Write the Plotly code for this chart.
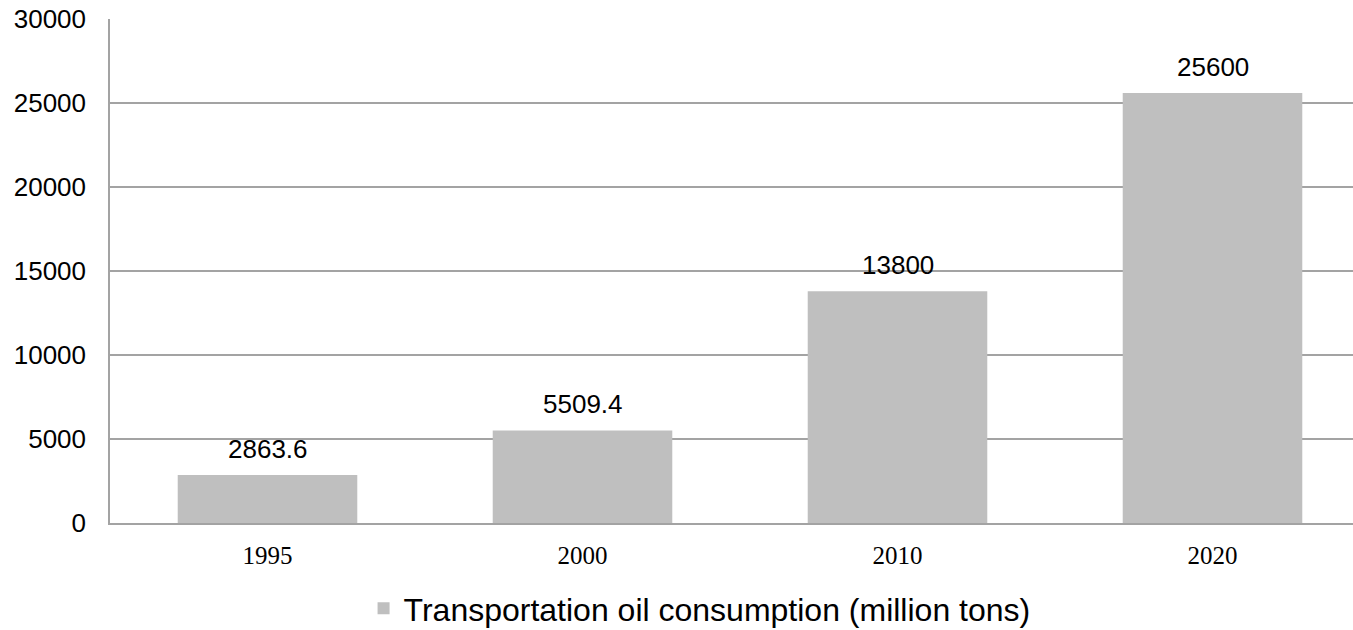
import plotly.graph_objects as go

years = ["1995", "2000", "2010", "2020"]
consumption = [2863.6, 5509.4, 13800, 25600]
value_labels = ["2863.6", "5509.4", "13800", "25600"]
y_ticks = [0, 5000, 10000, 15000, 20000, 25000, 30000]
y_tick_text = ["0", "5000", "10000", "15000", "20000", "25000", "30000"]
series_name = "Transportation oil consumption (million tons)"

BAR = "#bfbfbf"
GRID = "#a3a3a3"

fig = go.Figure()
fig.add_trace(go.Bar(
    x=years, y=consumption, name=series_name,
    marker=dict(color=BAR, line=dict(width=0)),
    showlegend=True,
))

for i, (v, lab) in enumerate(zip(consumption, value_labels)):
    fig.add_annotation(x=i, y=v, xref="x", yref="y", text=lab, showarrow=False,
                       yanchor="middle", yshift=26,
                       font=dict(family="Liberation Sans, Arial", size=26, color="#000"))

fig.update_layout(
    width=1353, height=630,
    margin=dict(l=110, r=0, t=19, b=107, autoexpand=False),
    paper_bgcolor="white", plot_bgcolor="white",
    bargap=0.43,
    xaxis=dict(
        type="category", range=[-0.5, 3.446],
        showline=True, linecolor=GRID, linewidth=1.5,
        showgrid=False, ticks="", automargin=False,
        tickfont=dict(family="Liberation Serif, Times New Roman", size=25, color="#000"),
        ticklabelstandoff=9,
    ),
    yaxis=dict(
        range=[0, 30000], tickvals=y_ticks, ticktext=y_tick_text,
        showline=True, linecolor=GRID, linewidth=1.5,
        showgrid=True, gridcolor=GRID, gridwidth=1.5,
        zeroline=False, ticks="", automargin=False,
        tickfont=dict(family="Liberation Sans, Arial", size=26, color="#000"),
        ticklabelstandoff=17,
    ),
    legend=dict(
        orientation="h", x=0.204, xanchor="left", y=-0.2242, yanchor="bottom",
        font=dict(family="Liberation Sans, Arial", size=32, color="#000"),
        bgcolor="rgba(0,0,0,0)",
    ),
)

fig.write_html("out.html")
